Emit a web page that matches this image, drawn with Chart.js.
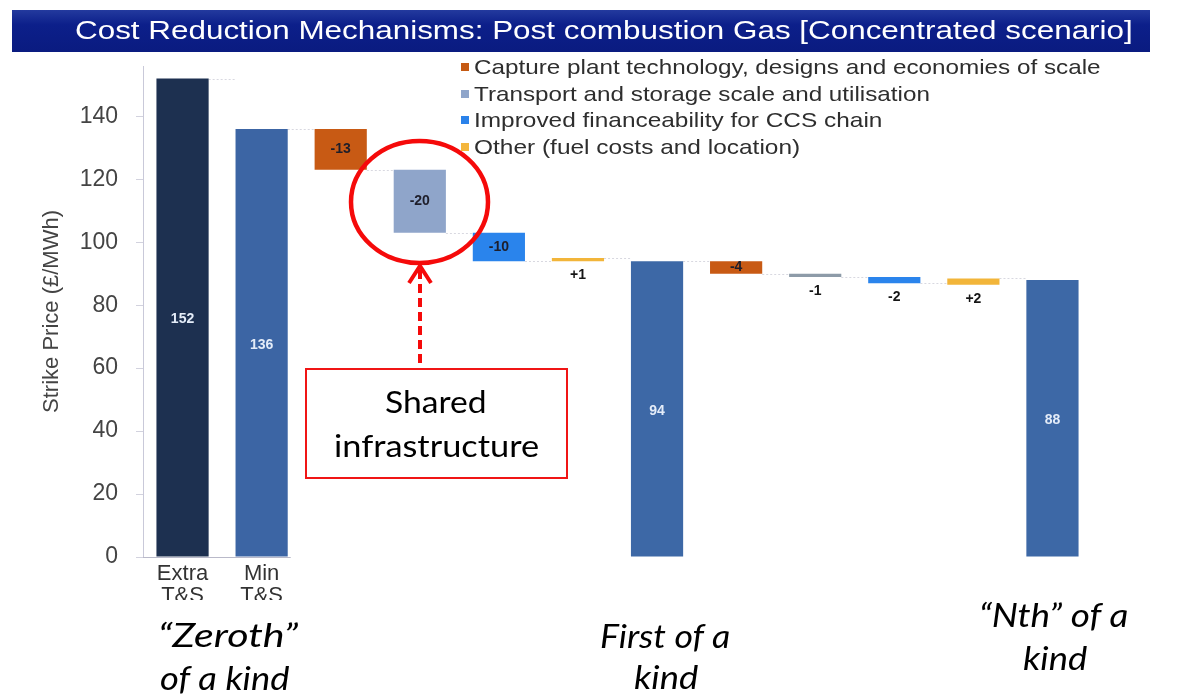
<!DOCTYPE html>
<html><head><meta charset="utf-8">
<script src="https://cdn.jsdelivr.net/npm/chart.js@4.4.0/dist/chart.umd.min.js"></script>
<style>
html,body{margin:0;padding:0;background:#fff;width:1178px;height:698px;overflow:hidden;}
#wrap{position:relative;width:1178px;height:698px;}
canvas{position:absolute;left:0;top:0;}
.t{position:absolute;white-space:nowrap;line-height:1.15;}
#banner{position:absolute;left:12px;top:10px;width:1138px;height:42px;background:linear-gradient(#233a9e,#0c1f8a 35%,#0a1b80);}
svg{position:absolute;left:0;top:0;}
.mk{position:absolute;width:8px;height:8px;}
</style></head><body><div id="wrap">
<div id="banner"></div>
<canvas id="c" width="1178" height="600"></canvas>
<svg width="1178" height="698" viewBox="0 0 1178 698">
  <ellipse cx="419.5" cy="202" rx="68.5" ry="61" fill="none" stroke="#f50a0a" stroke-width="4.5"/>
  <line x1="420" y1="270" x2="420" y2="368" stroke="#f50a0a" stroke-width="4" stroke-dasharray="9 5"/>
  <polyline points="409,283 420,266 431,283" fill="none" stroke="#f50a0a" stroke-width="4" stroke-linejoin="miter"/>
  <rect x="306" y="369" width="261" height="109" fill="#fff" stroke="#f01515" stroke-width="2"/>
</svg>
</div>
<script>
const categories = [["Extra","T&S"],["Min","T&S"],"","","","","","","","","",""];
const totalValues     = [152,136,null,null,null,null,94,null,null,null,null,88];
const captureValues   = [null,null,[136,123],null,null,null,null,[94,90],null,null,null,null];
const transportValues = [null,null,null,[123,103],null,null,null,null,[90,89],null,null,null];
const financeValues   = [null,null,null,null,[103,94],null,null,null,null,[89,87],null,null];
const otherValues     = [null,null,null,null,null,[94,95],null,null,null,null,[86.5,88.5],null];
const valueLabels = ["152","136","-13","-20","-10","+1","94","-4","-1","-2","+2","88"];
const yTicks = [0,20,40,60,80,100,120,140];
const legendLabels = [
  "Capture plant technology, designs and economies of scale",
  "Transport and storage scale and utilisation",
  "Improved financeability for CCS chain",
  "Other (fuel costs and location)"
];
const legendColors = ["#c55a13","#8fa5ca","#2a82ea","#f4b63d"];
const titleText = "Cost Reduction Mechanisms: Post combustion Gas [Concentrated scenario]";
const yTitle = "Strike Price (£/MWh)";

const SANS = "'Liberation Sans', Arial, Helvetica, sans-serif";
const CAL = "Lato, 'Open Sans', sans-serif";

const valueLabelPlugin = {
  id: 'valueLabels',
  afterDatasetsDraw(chart) {
    const ctx = chart.ctx;
    ctx.save();
    ctx.textAlign = 'center';
    ctx.textBaseline = 'middle';
    chart.data.datasets.forEach((ds, di) => {
      const meta = chart.getDatasetMeta(di);
      ds.data.forEach((v, i) => {
        if (v == null) return;
        const el = meta.data[i];
        const top = Math.min(el.y, el.base), bot = Math.max(el.y, el.base);
        const h = bot - top;
        let y, color;
        if (di === 0) { y = (top + bot) / 2 + 2; color = '#e4ecf8'; }
        else if (h > 10) { y = (top + bot) / 2; color = '#1e1e2a'; }
        else { y = bot + 14; color = '#151515'; }
        ctx.font = 'bold 14px ' + SANS;
        ctx.fillStyle = color;
        ctx.fillText(valueLabels[i], el.x, y);
      });
    });
    ctx.restore();
  }
};

const connectorPlugin = {
  id: 'connectors',
  beforeDatasetsDraw(chart) {
    const ctx = chart.ctx, y = chart.scales.y;
    const els = [], levels = [];
    chart.data.datasets.forEach((ds, di) => {
      const meta = chart.getDatasetMeta(di);
      ds.data.forEach((v, i) => {
        if (v == null) return;
        els[i] = meta.data[i];
        levels[i] = Array.isArray(v) ? v[1] : v;
      });
    });
    ctx.save();
    ctx.strokeStyle = '#d8d8e0';
    ctx.lineWidth = 1;
    ctx.setLineDash([2, 2]);
    for (let i = 0; i < els.length - 1; i++) {
      const a = els[i], b = els[i + 1];
      if (!a || !b) continue;
      const py = Math.round(y.getPixelForValue(levels[i])) + 0.5;
      ctx.beginPath();
      ctx.moveTo(a.x + a.width / 2, py);
      ctx.lineTo(b.x - b.width / 2, py);
      ctx.stroke();
    }
    ctx.restore();
  },
  afterDraw(chart) {
    const ctx = chart.ctx, area = chart.chartArea;
    const el = chart.getDatasetMeta(0).data[1];
    ctx.save();
    ctx.strokeStyle = '#b9b9c9';
    ctx.lineWidth = 1;
    ctx.beginPath();
    ctx.moveTo(area.left, Math.round(area.bottom) + 0.5);
    ctx.lineTo(el.x + el.width / 2 + 3, Math.round(area.bottom) + 0.5);
    ctx.stroke();
    ctx.restore();
  }
};

const common = { barPercentage: 0.66, categoryPercentage: 1, grouped: false, borderWidth: 0 };

new Chart(document.getElementById('c'), {
  type: 'bar',
  data: {
    labels: categories,
    datasets: [
      Object.assign({ label: 'Totals', data: totalValues,
        backgroundColor: ['#1d3050','#3c65a4','','','','','#3d68a6','','','','','#3d68a6'] }, common),
      Object.assign({ label: legendLabels[0], data: captureValues, backgroundColor: '#c85a14' }, common),
      Object.assign({ label: legendLabels[1], data: transportValues,
        backgroundColor: ['','','','#8fa5ca','','','','','#8d9ba8','','',''] }, common),
      Object.assign({ label: legendLabels[2], data: financeValues, backgroundColor: '#2a84ec' }, common),
      Object.assign({ label: legendLabels[3], data: otherValues, backgroundColor: '#f2b53a' }, common)
    ]
  },
  options: {
    responsive: false,
    animation: false,
    devicePixelRatio: 1,
    layout: { padding: { left: 39, right: 86, top: 66, bottom: 0 } },
    plugins: { legend: { display: false }, tooltip: { enabled: false } },
    scales: {
      x: {
        grid: { display: false, drawTicks: false },
        border: { display: false },
        ticks: { padding: 6, autoSkip: false, maxRotation: 0, color: '#333',
          font: { family: SANS, size: 22, lineHeight: 1.0 } },
        afterFit(s) { s.height = 43; }
      },
      y: {
        min: 0, max: 156,
        afterBuildTicks(s) { s.ticks = yTicks.map(v => ({ value: v })); },
        border: { color: '#c9c9d9' },
        grid: { drawOnChartArea: false, color: '#d2d2de', tickLength: 7 },
        ticks: { padding: 18, color: '#444', font: { family: SANS, size: 23 } },
        title: { display: true, text: yTitle, color: '#444', font: { family: SANS, size: 22 }, padding: { top: 0, bottom: 0 } },
        afterFit(s) { s.width = 104; }
      }
    }
  },
  plugins: [connectorPlugin, valueLabelPlugin]
});

const wrap = document.getElementById('wrap');
function addText(str, x, cy, size, family, width, opts) {
  opts = opts || {};
  const s = document.createElement('span');
  s.className = 't';
  s.textContent = str;
  s.style.fontFamily = family;
  s.style.fontSize = size + 'px';
  s.style.fontStyle = opts.style || 'normal';
  s.style.color = opts.color || '#000';
  wrap.appendChild(s);
  const w = s.offsetWidth, h = s.offsetHeight;
  const k = width ? width / w : 1;
  const left = opts.align === 'left' ? x : x - w / 2;
  s.style.left = left + 'px';
  s.style.top = (cy - h / 2) + 'px';
  s.style.transformOrigin = opts.align === 'left' ? 'left center' : 'center center';
  s.style.transform = 'scaleX(' + k + ')';
}
function build() {
  addText(titleText, 604, 31, 26, SANS, 1058, { color: '#fff' });
  const legY = [67, 94, 120, 147];
  const legW = [626, 456, 408, 326];
  legendLabels.forEach((t, i) => {
    addText(t, 474, legY[i], 21, SANS, legW[i], { align: 'left', color: '#2e2e2e' });
    const m = document.createElement('div');
    m.className = 'mk';
    m.style.left = '461px';
    m.style.top = (legY[i] - 4) + 'px';
    m.style.background = legendColors[i];
    wrap.appendChild(m);
  });
  addText("Shared", 436, 402, 31, CAL, 102);
  addText("infrastructure", 436, 446, 31, CAL, 205);
  addText("\u201CZeroth\u201D", 228, 635, 33, CAL, 140, { style: 'italic' });
  addText("of a kind", 225, 678, 33, CAL, 130, { style: 'italic' });
  addText("First of a", 665, 636, 33, CAL, 130, { style: 'italic' });
  addText("kind", 666, 677, 33, CAL, 64, { style: 'italic' });
  addText("\u201CNth\u201D of a", 1054, 615, 33, CAL, 150, { style: 'italic' });
  addText("kind", 1055, 658, 33, CAL, 64, { style: 'italic' });
}
if (document.fonts && document.fonts.ready) document.fonts.ready.then(build); else build();
</script>
</body></html>
